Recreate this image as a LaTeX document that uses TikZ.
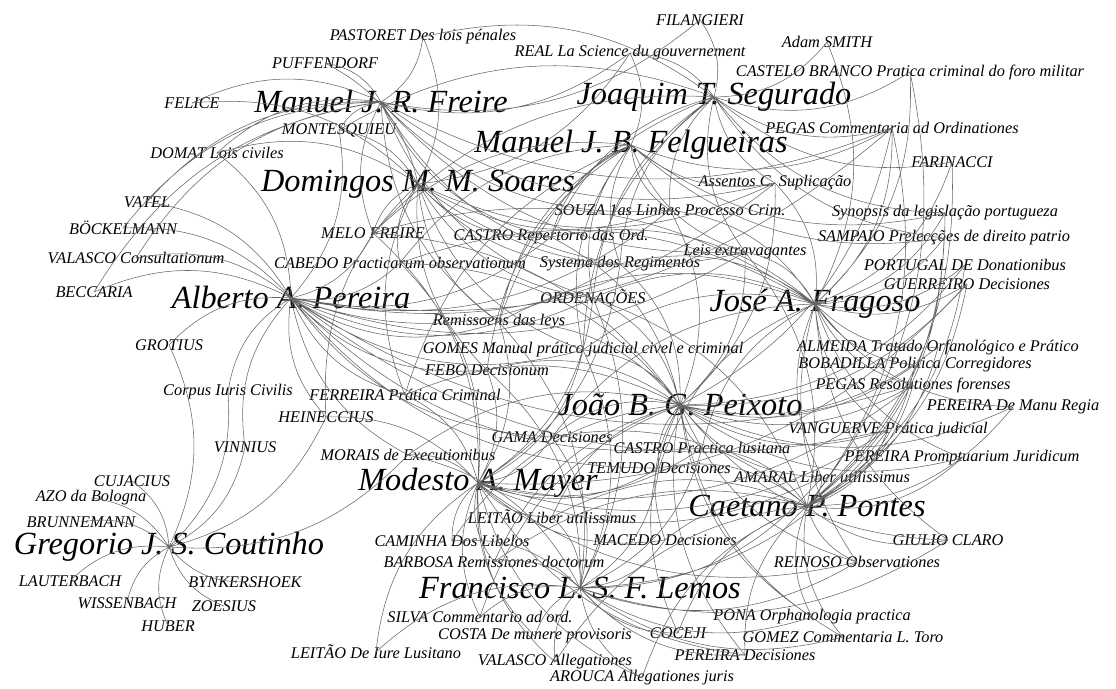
\documentclass[tikz,border=0pt]{standalone}
\usepackage{fontspec}
\setmainfont{Liberation Serif}
\usepackage{tikz}

\newcommand{\workfont}{\fontsize{16.3}{17}\selectfont\itshape}
\newcommand{\authorfont}{\fontsize{32.3}{34}\selectfont\itshape}

\begin{document}
\begin{tikzpicture}[x = 1pt, y = -1pt]
	\tikzstyle{every node} = [inner sep = 0pt, font = \workfont]
	\tikzstyle{author} = [font = \authorfont]
	\tikzstyle{edge} = [draw = black!60, line width = 0.55pt, every to/.style = {bend right = 25}]
\useasboundingbox (0, 0) rectangle (1116, 688);
% authors
\node[author] (0) at (381, 102) {Manuel J. R. Freire};
\node[author] (1) at (714, 97) {Joaquim T. Segurado};
\node[author] (2) at (631, 145) {Manuel J. B. Felgueiras};
\node[author] (3) at (418, 184) {Domingos M. M. Soares};
\node[author] (4) at (291, 298) {Alberto A. Pereira};
\node[author] (5) at (815, 304) {José A. Fragoso};
\node[author] (6) at (680, 405) {João B. G. Peixoto};
\node[author] (7) at (478, 483) {Modesto A. Mayer};
\node[author] (8) at (807, 506) {Caetano P. Pontes};
\node[author] (9) at (169, 547) {Gregorio J. S. Coutinho};
\node[author] (10) at (580, 588) {Francisco L. S. F. Lemos};
% works
\node (11) at (700, 20) {FILANGIERI};
\node (12) at (423, 37) {PASTORET Des lois pénales};
\node (13) at (827, 42) {Adam SMITH};
\node (14) at (630, 53) {REAL La Science du gouvernement};
\node (15) at (325, 63) {PUFFENDORF};
\node (16) at (910, 72) {CASTELO BRANCO Pratica criminal do foro militar};
\node (17) at (192, 103) {FELICE};
\node (18) at (339, 130) {MONTESQUIEU};
\node (19) at (892, 128) {PEGAS Commentaria ad Ordinationes};
\node (20) at (217, 153) {DOMAT Lois civiles};
\node (21) at (952, 162) {FARINACCI};
\node (22) at (775, 183) {Assentos C. Suplicação};
\node (23) at (147, 202) {VATEL};
\node (24) at (670, 210) {SOUZA 1as Linhas Processo Crim.};
\node (25) at (945, 213) {Synopsis da legislação portugueza};
\node (26) at (123, 228) {BÖCKELMANN};
\node (27) at (373, 233) {MELO FREIRE};
\node (28) at (551, 237) {CASTRO Repertorio das Ord.};
\node (29) at (944, 238) {SAMPAIO Prelecções de direito patrio};
\node (30) at (745, 252) {Leis extravagantes};
\node (31) at (136, 258) {VALASCO Consultationum};
\node (32) at (400, 263) {CABEDO Practicarum observationum};
\node (33) at (620, 264) {Systema dos Regimentos};
\node (34) at (965, 265) {PORTUGAL DE Donationibus};
\node (35) at (967, 284) {GUERREIRO Decisiones};
\node (36) at (94, 292) {BECCARIA};
\node (37) at (593, 298) {ORDENAÇÕES};
\node (38) at (499, 322) {Remissoens das leys};
\node (39) at (169, 345) {GROTIUS};
\node (40) at (938, 347) {ALMEIDA Tratado Orfanológico e Prático};
\node (41) at (583, 350) {GOMES Manual prático judicial civel e criminal};
\node (42) at (915, 365) {BOBADILLA Politica Corregidores};
\node (43) at (487, 370) {FEBO Decisionum};
\node (44) at (913, 385) {PEGAS Resolutiones forenses};
\node (45) at (228, 392) {Corpus Iuris Civilis};
\node (46) at (405, 395) {FERREIRA Prática Criminal};
\node (47) at (1013, 407) {PEREIRA De Manu Regia};
\node (48) at (326, 417) {HEINECCIUS};
\node (49) at (888, 430) {VANGUERVE Prática judicial};
\node (50) at (552, 437) {GAMA Decisiones};
\node (51) at (245, 447) {VINNIUS};
\node (52) at (702, 448) {CASTRO Practica lusitana};
\node (53) at (408, 455) {MORAIS de Executionibus};
\node (54) at (962, 458) {PEREIRA Promptuarium Juridicum};
\node (55) at (659, 468) {TEMUDO Decisiones};
\node (56) at (822, 477) {AMARAL Liber utilissimus};
\node (57) at (132, 481) {CUJACIUS};
\node (58) at (91, 498) {AZO da Bologna};
\node (59) at (552, 517) {LEITÃO Liber utilissimus};
\node (60) at (81, 522) {BRUNNEMANN};
\node (61) at (665, 540) {MACEDO Decisiones};
\node (62) at (452, 541) {CAMINHA Dos Libelos};
\node (63) at (948, 540) {GIULIO CLARO};
\node (64) at (494, 562) {BARBOSA Remissiones doctorum};
\node (65) at (857, 562) {REINOSO Observationes};
\node (66) at (70, 581) {LAUTERBACH};
\node (67) at (245, 582) {BYNKERSHOEK};
\node (68) at (127, 603) {WISSENBACH};
\node (69) at (224, 606) {ZOESIUS};
\node (70) at (480, 617) {SILVA Commentario ad ord.};
\node (71) at (812, 617) {PONA Orphanologia practica};
\node (72) at (168, 626) {HUBER};
\node (73) at (678, 633) {COCEJI};
\node (74) at (535, 636) {COSTA De munere provisoris};
\node (75) at (843, 637) {GOMEZ Commentaria L. Toro};
\node (76) at (376, 652) {LEITÃO De Iure Lusitano};
\node (77) at (745, 655) {PEREIRA Decisiones};
\node (78) at (555, 662) {VALASCO Allegationes};
\node (79) at (642, 678) {AROUCA Allegationes juris};
% citations
	\path[edge] (0.center) to (11.center) (0.center) to (12.center) (0.center) to (14.center) (0.center) to (15.center) (0.center) to (17.center) (0.center) to (18.center) (0.center) to (20.center) (0.center) to (23.center) (0.center) to (26.center) (0.center) to (27.center) (0.center) to (31.center) (0.center) to (36.center) (0.center) to (19.center) (0.center) to (22.center) (0.center) to (24.center) (0.center) to (30.center) (0.center) to (33.center) (0.center) to (37.center) (0.center) to (38.center) (0.center) to (28.center);
	\path[edge] (1.center) to (11.center) (1.center) to (12.center) (1.center) to (13.center) (1.center) to (14.center) (1.center) to (16.center) (1.center) to (19.center) (1.center) to (21.center) (1.center) to (22.center) (1.center) to (24.center) (1.center) to (25.center) (1.center) to (27.center) (1.center) to (28.center) (1.center) to (30.center) (1.center) to (33.center) (1.center) to (37.center) (1.center) to (18.center) (1.center) to (29.center) (1.center) to (38.center) (1.center) to (41.center);
	\path[edge] (2.center) to (22.center) (2.center) to (24.center) (2.center) to (27.center) (2.center) to (28.center) (2.center) to (30.center) (2.center) to (33.center) (2.center) to (37.center) (2.center) to (38.center) (2.center) to (41.center) (2.center) to (19.center) (2.center) to (25.center) (2.center) to (29.center) (2.center) to (32.center) (2.center) to (43.center) (2.center) to (46.center) (2.center) to (14.center);
	\path[edge] (3.center) to (15.center) (3.center) to (18.center) (3.center) to (20.center) (3.center) to (27.center) (3.center) to (28.center) (3.center) to (32.center) (3.center) to (33.center) (3.center) to (37.center) (3.center) to (38.center) (3.center) to (41.center) (3.center) to (43.center) (3.center) to (46.center) (3.center) to (48.center) (3.center) to (24.center) (3.center) to (22.center) (3.center) to (30.center) (3.center) to (14.center) (3.center) to (12.center) (3.center) to (17.center);
	\path[edge] (4.center) to (23.center) (4.center) to (26.center) (4.center) to (31.center) (4.center) to (36.center) (4.center) to (39.center) (4.center) to (45.center) (4.center) to (51.center) (4.center) to (48.center) (4.center) to (46.center) (4.center) to (27.center) (4.center) to (32.center) (4.center) to (37.center) (4.center) to (38.center) (4.center) to (41.center) (4.center) to (43.center) (4.center) to (28.center) (4.center) to (33.center) (4.center) to (50.center) (4.center) to (53.center) (4.center) to (52.center) (4.center) to (55.center) (4.center) to (44.center) (4.center) to (49.center) (4.center) to (30.center) (4.center) to (22.center) (4.center) to (20.center) (4.center) to (18.center) (4.center) to (24.center) (4.center) to (19.center);
	\path[edge] (5.center) to (29.center) (5.center) to (34.center) (5.center) to (35.center) (5.center) to (40.center) (5.center) to (42.center) (5.center) to (44.center) (5.center) to (47.center) (5.center) to (49.center) (5.center) to (54.center) (5.center) to (56.center) (5.center) to (25.center) (5.center) to (21.center) (5.center) to (19.center) (5.center) to (16.center) (5.center) to (13.center) (5.center) to (22.center) (5.center) to (30.center) (5.center) to (37.center) (5.center) to (33.center) (5.center) to (24.center) (5.center) to (28.center) (5.center) to (41.center) (5.center) to (38.center) (5.center) to (32.center) (5.center) to (27.center) (5.center) to (65.center) (5.center) to (63.center) (5.center) to (52.center) (5.center) to (50.center) (5.center) to (55.center);
	\path[edge] (6.center) to (37.center) (6.center) to (41.center) (6.center) to (43.center) (6.center) to (38.center) (6.center) to (50.center) (6.center) to (52.center) (6.center) to (55.center) (6.center) to (28.center) (6.center) to (33.center) (6.center) to (30.center) (6.center) to (40.center) (6.center) to (42.center) (6.center) to (44.center) (6.center) to (49.center) (6.center) to (54.center) (6.center) to (56.center) (6.center) to (47.center) (6.center) to (59.center) (6.center) to (61.center) (6.center) to (62.center) (6.center) to (64.center) (6.center) to (53.center) (6.center) to (46.center) (6.center) to (32.center) (6.center) to (27.center) (6.center) to (24.center) (6.center) to (22.center) (6.center) to (19.center) (6.center) to (35.center) (6.center) to (34.center) (6.center) to (65.center) (6.center) to (63.center) (6.center) to (71.center) (6.center) to (75.center) (6.center) to (77.center) (6.center) to (73.center) (6.center) to (70.center);
	\path[edge] (7.center) to (53.center) (7.center) to (50.center) (7.center) to (55.center) (7.center) to (52.center) (7.center) to (59.center) (7.center) to (62.center) (7.center) to (64.center) (7.center) to (61.center) (7.center) to (43.center) (7.center) to (41.center) (7.center) to (46.center) (7.center) to (48.center) (7.center) to (37.center) (7.center) to (38.center) (7.center) to (33.center) (7.center) to (32.center) (7.center) to (78.center) (7.center) to (79.center) (7.center) to (70.center) (7.center) to (74.center) (7.center) to (77.center) (7.center) to (76.center) (7.center) to (56.center) (7.center) to (49.center) (7.center) to (44.center) (7.center) to (27.center) (7.center) to (65.center) (7.center) to (35.center);
	\path[edge] (8.center) to (56.center) (8.center) to (54.center) (8.center) to (49.center) (8.center) to (47.center) (8.center) to (63.center) (8.center) to (65.center) (8.center) to (71.center) (8.center) to (75.center) (8.center) to (77.center) (8.center) to (73.center) (8.center) to (61.center) (8.center) to (55.center) (8.center) to (52.center) (8.center) to (50.center) (8.center) to (59.center) (8.center) to (64.center) (8.center) to (40.center) (8.center) to (42.center) (8.center) to (44.center) (8.center) to (35.center) (8.center) to (34.center) (8.center) to (29.center) (8.center) to (25.center) (8.center) to (19.center) (8.center) to (21.center) (8.center) to (16.center) (8.center) to (37.center) (8.center) to (30.center) (8.center) to (79.center) (8.center) to (78.center);
	\path[edge] (9.center) to (57.center) (9.center) to (58.center) (9.center) to (60.center) (9.center) to (66.center) (9.center) to (67.center) (9.center) to (68.center) (9.center) to (69.center) (9.center) to (72.center) (9.center) to (39.center) (9.center) to (45.center) (9.center) to (51.center) (9.center) to (48.center) (9.center) to (53.center);
	\path[edge] (10.center) to (62.center) (10.center) to (64.center) (10.center) to (70.center) (10.center) to (74.center) (10.center) to (76.center) (10.center) to (78.center) (10.center) to (79.center) (10.center) to (73.center) (10.center) to (77.center) (10.center) to (71.center) (10.center) to (75.center) (10.center) to (61.center) (10.center) to (59.center) (10.center) to (55.center) (10.center) to (50.center) (10.center) to (53.center) (10.center) to (52.center) (10.center) to (65.center) (10.center) to (63.center) (10.center) to (37.center) (10.center) to (43.center) (10.center) to (41.center) (10.center) to (38.center) (10.center) to (56.center) (10.center) to (49.center);
\end{tikzpicture}
\end{document}
